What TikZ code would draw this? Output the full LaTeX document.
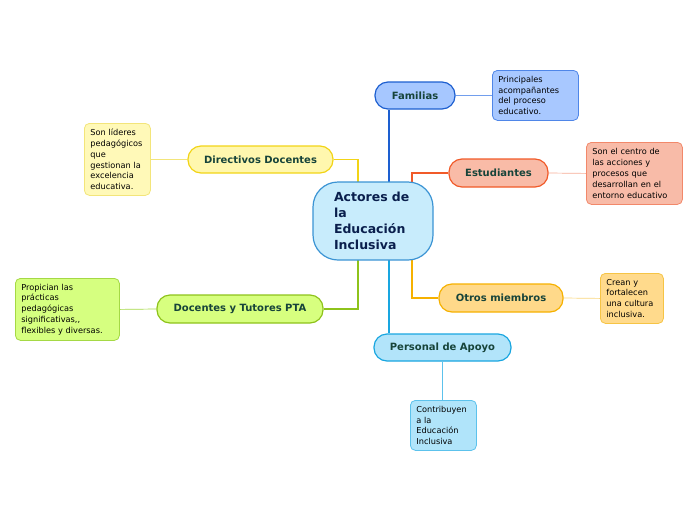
\documentclass[tikz,border=0pt]{standalone}
\usepackage{fontspec}
\setmainfont{DejaVu Sans}
\usetikzlibrary{backgrounds}
\definecolor{txtg}{HTML}{17443A}
\definecolor{txtc}{HTML}{0A1F4D}
\definecolor{cenF}{HTML}{C8ECFC}\definecolor{cenD}{HTML}{3B94D4}
\definecolor{famF}{HTML}{A6C7FF}\definecolor{famD}{HTML}{1D5FD0}
\definecolor{famNF}{HTML}{A8C8FF}\definecolor{famND}{HTML}{4F86E8}
\definecolor{estF}{HTML}{F9BBA7}\definecolor{estD}{HTML}{F15A29}
\definecolor{estNF}{HTML}{F8BBA8}\definecolor{estND}{HTML}{F2886A}
\definecolor{otrF}{HTML}{FFD98A}\definecolor{otrD}{HTML}{F6B100}
\definecolor{otrNF}{HTML}{FFDA8C}\definecolor{otrND}{HTML}{F6C445}
\definecolor{perF}{HTML}{B2E4FA}\definecolor{perD}{HTML}{19A6E0}
\definecolor{perNF}{HTML}{B0E4FA}\definecolor{perND}{HTML}{5CC2EC}
\definecolor{dirF}{HTML}{FFF7AE}\definecolor{dirD}{HTML}{F2D417}
\definecolor{dirNF}{HTML}{FFF9B8}\definecolor{dirND}{HTML}{F3E57A}
\definecolor{docF}{HTML}{D7FF7F}\definecolor{docD}{HTML}{8EC31B}
\definecolor{docNF}{HTML}{D6FF80}\definecolor{docND}{HTML}{A5D945}
\tikzset{
  topic/.style={draw, line width=1.2pt, rounded corners=13pt, inner sep=0pt,
    font=\fontsize{10}{12}\selectfont\bfseries, text=txtg},
  note/.style={draw, line width=0.8pt, rounded corners=5pt, anchor=north west,
    inner xsep=6pt, inner ysep=0pt, align=left,
    font=\fontsize{8.2}{10.8}\selectfont, text=black},
  branch/.style={line width=1.6pt},
  thin/.style={line width=0.7pt}
}
\begin{document}
\begin{tikzpicture}[x=1pt,y=-1pt]
\useasboundingbox (0,0) rectangle (696,520);
% central
\node[draw=cenD, fill=cenF, line width=1.2pt, rounded corners=25pt,
  minimum width=120pt, minimum height=78pt, text width=78pt, inner sep=0pt,
  align=left, text=txtc, font=\fontsize{12.5}{16}\selectfont\bfseries]
  (cen) at (373,221) {Actores de\\la\\Educación\\Inclusiva};
% topics
\node[topic, fill=famF, draw=famD, minimum width=80pt, minimum height=27pt] (fam) at (415,95.5) {Familias};
\node[topic, fill=estF, draw=estD, minimum width=99pt, minimum height=28pt] (est) at (498.5,173) {Estudiantes};
\node[topic, fill=otrF, draw=otrD, minimum width=124pt, minimum height=28pt] (otr) at (501,298) {Otros miembros};
\node[topic, fill=perF, draw=perD, minimum width=137pt, minimum height=27pt] (per) at (442.5,347.5) {Personal de Apoyo};
\node[topic, fill=dirF, draw=dirD, minimum width=145pt, minimum height=27pt] (dir) at (260.5,159.5) {Directivos Docentes};
\node[topic, fill=docF, draw=docD, minimum width=166pt, minimum height=28pt] (doc) at (240,309) {Docentes y Tutores PTA};
% notes
\node[note, fill=famNF, draw=famND, text width=74pt, minimum height=50pt] (famN) at (492,70) {Principales\\acompañantes\\del proceso\\educativo.};
\node[note, fill=estNF, draw=estND, text width=84pt, minimum height=62pt] (estN) at (586,142) {Son el centro de\\las acciones y\\procesos que\\desarrollan en el\\entorno educativo};
\node[note, fill=otrNF, draw=otrND, text width=51pt, minimum height=50pt] (otrN) at (600,273) {Crean y\\fortalecen\\una cultura\\inclusiva.};
\node[note, fill=perNF, draw=perND, text width=54pt, minimum height=50pt] (perN) at (410,400) {Contribuyen\\a la\\Educación\\Inclusiva};
\node[note, fill=dirNF, draw=dirND, text width=54pt, minimum height=72pt] (dirN) at (84,123) {Son líderes\\pedagógicos\\que\\gestionan la\\excelencia\\educativa.};
\node[note, fill=docNF, draw=docND, text width=92pt, minimum height=62pt] (docN) at (15,278) {Propician las\\prácticas\\pedagógicas\\significativas{,}{,}\\flexibles y diversas.};
% connectors
\begin{pgfonlayer}{background}
\draw[branch, famD] ([xshift=16pt]cen.center) -- ([xshift=16pt]cen.center |- fam.south);
\draw[branch, perD] ([xshift=16pt]cen.center) -- ([xshift=16pt]cen.center |- per.north);
\draw[branch, estD] (est.west) -| ([xshift=39pt]cen.center);
\draw[branch, otrD] (otr.west) -| ([xshift=39pt]cen.center);
\draw[branch, dirD] (dir.east) -| ([xshift=-15pt]cen.center);
\draw[branch, docD] (doc.east) -| ([xshift=-15pt]cen.center);
\draw[thin, famND!80!white] (fam.east) -- (famN.west);
\draw[thin, estND!70!white] (est.east) -- (estN.west);
\draw[thin, otrND!70!white] (otr.east) -- (otrN.west);
\draw[thin, perND] (per.south) -- (perN.north -| per.south);
\draw[thin, dirND] (dir.west) -- (dirN.east);
\draw[thin, docND] (doc.west) -- (docN.east);
\end{pgfonlayer}
\end{tikzpicture}
\end{document}
